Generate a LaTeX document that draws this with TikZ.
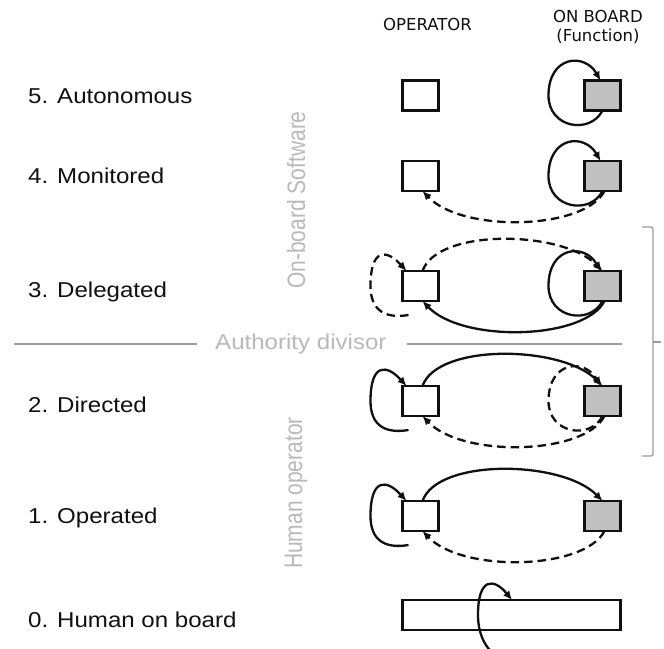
\documentclass[tikz,border=0pt]{standalone}
\usepackage{fontspec}
\usepackage{graphicx}
\usetikzlibrary{arrows.meta,calc}

\newfontfamily\lblfont[FakeStretch=1.12]{Liberation Sans}
\newfontfamily\sidefont{Liberation Sans}
\newfontfamily\hdrfont{DejaVu Sans}

\definecolor{ink}{HTML}{101010}
\definecolor{fngray}{HTML}{C0C0C0}
\definecolor{rulegray}{HTML}{9C9C9C}
\definecolor{faintgray}{HTML}{B9B9B9}

% self loop on the left side of an on-board box
\newcommand{\fnloop}[2]{%
  \draw[#2] ($(#1.south)+(0,0)$) .. controls +(-12,-24) and +(0,-33) ..
    ($(#1.west)+(-36,0)$) .. controls +(0,40) and +(-16,28) .. ($(#1.north)+(-2,0)$);}
% self loop on the left side of an operator box (free lower end)
\newcommand{\oploop}[2]{%
  \draw[#2] ($(#1.south west)+(6,-14)$) .. controls +(-24,-4) and +(0,-24) ..
    ($(#1.west)+(-32,0)$) .. controls +(0,38) and +(-20,22) .. ($(#1.north west)+(4,0)$);}
% command arc over the top: operator -> on board
\newcommand{\toparc}[3]{%
  \draw[#3] ($(#1.north)+(2,0)$) .. controls +(15,43) and +(-40,41) .. (#2.north);}
% feedback arc underneath: on board -> operator
\newcommand{\botarc}[3]{%
  \draw[#3] ($(#1.south)+(2,0)$) .. controls +(-20,-39) and +(40,-42) .. ($(#2.south)+(2,0)$);}

\begin{document}
\begin{tikzpicture}[x=1pt,y=1pt,
  opbox/.style={draw=ink, line width=2.9pt, fill=white, minimum width=36pt,
    minimum height=30pt, inner sep=0pt, outer sep=0pt},
  fnbox/.style={opbox, fill=fngray},
  link/.style={draw=ink, line width=2.3pt, -{Latex[length=9pt,width=8pt]}},
  dlink/.style={link, dash pattern=on 8.5pt off 5pt},
  level/.style={font=\lblfont\fontsize{21.5}{24}\selectfont, text=ink,
    anchor=base west, inner sep=0pt},
  hdr/.style={font=\hdrfont\fontsize{16.5}{18}\selectfont, text=ink,
    anchor=base, inner sep=0pt},
  vnote/.style={font=\sidefont\fontsize{21}{24}\selectfont, text=faintgray,
    rotate=90, inner sep=0pt},
  divtext/.style={font=\lblfont\fontsize{21.5}{24}\selectfont, text=faintgray,
    anchor=base west, inner sep=0pt},
  divline/.style={draw=rulegray, line width=1.3pt},
  bracket/.style={draw=rulegray, line width=1.4pt, rounded corners=2pt}]

\fill[white] (0,0) rectangle (664,-648);
\useasboundingbox (0,0) rectangle (664,-648);

% column headers
\node[hdr] (hop) at (427.5,-30) {OPERATOR};
\node[hdr] (hfn1) at (598,-22) {ON BOARD};
\node[hdr] (hfn2) at (598,-41) {(Function)};

% level names
\node[level] (l5) at (28,-103) {5. Autonomous};
\node[level] (l4) at (28,-183) {4. Monitored};
\node[level] (l3) at (28,-297) {3. Delegated};
\node[level] (l2) at (28,-412) {2. Directed};
\node[level] (l1) at (28,-523) {1. Operated};
\node[level] (l0) at (28,-627) {0. Human on board};

% side notes
\node[vnote] (sw) at (296,-200) {\scalebox{1}[1.2]{On-board Software}};
\node[vnote] (hu) at (296,-493) {\scalebox{1}[1.2]{Human operator}};

% authority divisor
\node[divtext] (div) at (215,-349) {Authority divisor};
\coordinate (dvA) at (14,-344);
\coordinate (dvB) at (197,-344);
\coordinate (dvC) at (407,-344);
\coordinate (dvD) at (622,-344);
\draw[divline] (dvA) -- (dvB);
\draw[divline] (dvC) -- (dvD);

% bracket on the right
\coordinate (brT) at (642,-227);
\coordinate (brB) at (642,-456);
\coordinate (brM) at (661,-342);
\draw[bracket] (brT) -- (653,-227) -- (653,-456) -- (brB);
\draw[bracket] (653,-342) -- (brM);

% boxes
\node[opbox] (o5) at (420.5,-95.5) {};
\node[fnbox] (f5) at (602.5,-95.5) {};
\node[opbox] (o4) at (420.5,-176) {};
\node[fnbox] (f4) at (602.5,-176) {};
\node[opbox] (o3) at (420.5,-286) {};
\node[fnbox] (f3) at (602.5,-286) {};
\node[opbox] (o2) at (420.5,-401) {};
\node[fnbox] (f2) at (602.5,-401) {};
\node[opbox] (o1) at (420.5,-516) {};
\node[fnbox] (f1) at (602.5,-516) {};
\node[opbox, minimum width=218pt] (bar) at (511.5,-615) {};

% 5. Autonomous
\fnloop{f5}{link}
% 4. Monitored
\fnloop{f4}{link}
\botarc{f4}{o4}{dlink}
% 3. Delegated
\fnloop{f3}{link}
\oploop{o3}{dlink}
\toparc{o3}{f3}{dlink}
\botarc{f3}{o3}{link}
% 2. Directed
\fnloop{f2}{dlink}
\oploop{o2}{link}
\toparc{o2}{f2}{link}
\botarc{f2}{o2}{dlink}
% 1. Operated
\oploop{o1}{link}
\toparc{o1}{f1}{link}
\botarc{f1}{o1}{dlink}
% 0. Human on board
\draw[link] ($(bar.south)+(-1.5,-31)$) .. controls +(-22,4) and +(0,-22) ..
  ($(bar.center)+(-33.5,0)$) .. controls +(0,38) and +(-18,22) .. ($(bar.north)+(0.5,0)$);

\end{tikzpicture}
\end{document}
